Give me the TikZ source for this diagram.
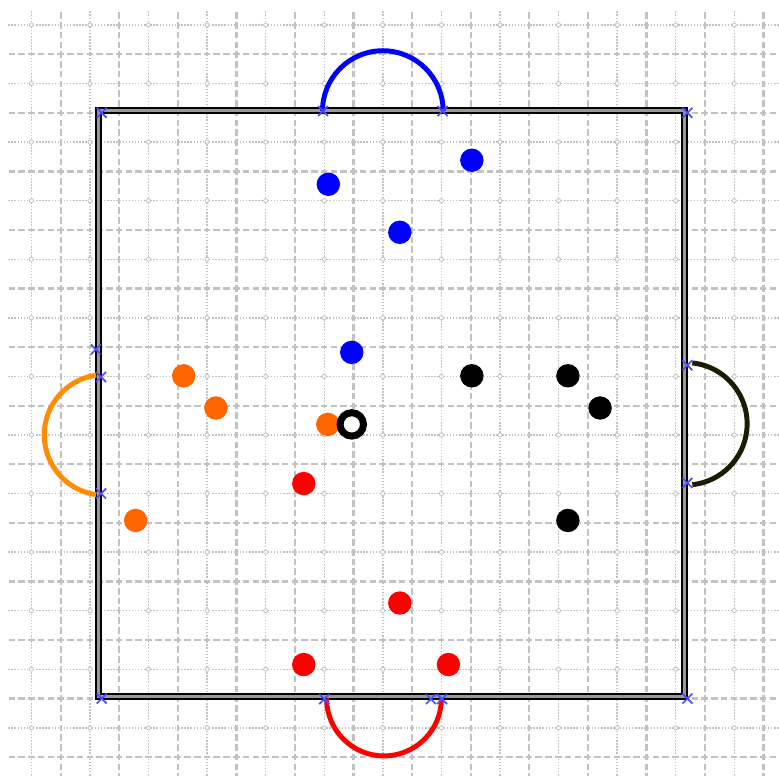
\documentclass[tikz,border=0pt]{standalone}
\usepackage{xcolor}
\definecolor{gridgray}{HTML}{C2C2C2}
\definecolor{exitblue}{HTML}{0000FF}
\definecolor{exitorange}{HTML}{FF8C00}
\definecolor{agentorange}{HTML}{FF6600}
\definecolor{exitred}{HTML}{FF0000}
\definecolor{exitdark}{HTML}{1C1C05}
\definecolor{markblue}{HTML}{4C4CFF}
\usepackage{tikz}

\tikzset{
  agent/.style={circle,inner sep=0pt,minimum size=0.4cm},
  door/.style={line width=2.4pt},
  exitmark/.style={markblue,line width=0.8pt},
  majorline/.style={gridgray,line width=1.1pt,dash pattern=on 3.2pt off 1.54pt,dash phase=1.6pt},
  minorline/.style={gridgray,line width=0.7pt,dash pattern=on 0.7pt off 0.8pt}
}

\begin{document}
\begin{tikzpicture}
  \useasboundingbox (-1.736,-1.306) rectangle (11.564,11.926);
  % Grid
  \begin{scope}
    \clip (-1.60,-1.40) rectangle (11.70,11.74);
    \foreach \j in {-2,...,11} {
      \draw[minorline] (-1.7,\j+0.5) -- (11.7,\j+0.5);
    }
    \foreach \i in {-1,...,11} {
      \draw[minorline] (\i-0.2,-2) -- (\i-0.2,12);
    }
    \foreach \j in {-1,...,11} {
      \draw[majorline] (-1.7,\j) -- (11.7,\j);
    }
    \foreach \i in {-1,...,12} {
      \draw[majorline] (\i-0.7,-2) -- (\i-0.7,12);
    }
    \foreach \i in {-1,...,11}
      \foreach \j in {-2,...,11}
        \draw[gridgray,line width=0.4pt,fill=white] (\i-0.2,\j+0.5) circle (0.035);
  \end{scope}
  % Walls
  \draw[black,line width=0.9pt,double=gray!80,double distance=1.6pt] (-0.05,0.04) rectangle (9.95,10.04);
  % Exits
  \draw[door,exitblue] (3.77,10.03) arc[start angle=180,end angle=0,radius=1.03];
  \draw[door,exitred] (3.84,0) arc[start angle=180,end angle=360,radius=0.98];
  \draw[door,exitorange] ([shift={(98:1.03)}]0.05,4.50) arc[start angle=98,end angle=262,radius=1.03];
  \draw[door,exitdark] ([shift={(84:1.045)}]9.975,4.69) arc[start angle=84,end angle=-84,radius=1.045];
  % Marks
  \foreach \x/\y in {0/0,10/0,0/10,10/10,3.78/10.03,5.82/10.03,3.80/-0.01,5.62/-0.01,5.81/-0.01,
                     -0.10/5.96,-0.01/5.49,-0.01/3.50,10/5.69,10/3.68} {
    \draw[exitmark] (\x-0.085,\y-0.085) -- (\x+0.085,\y+0.085) (\x-0.085,\y+0.085) -- (\x+0.085,\y-0.085);
  }
  % Agents
  \foreach \x/\y [count=\n] in {3.87/8.78,6.32/9.19,5.09/7.96,4.27/5.91}
    \node[agent,fill=exitblue] (blue\n) at (\x,\y) {};
  \foreach \x/\y [count=\n] in {1.40/5.51,1.95/4.96,3.86/4.68,0.58/3.04}
    \node[agent,fill=agentorange] (orange\n) at (\x,\y) {};
  \foreach \x/\y [count=\n] in {6.32/5.51,7.96/5.51,8.51/4.96,7.96/3.04}
    \node[agent,fill=black] (dark\n) at (\x,\y) {};
  \foreach \x/\y [count=\n] in {3.45/3.67,5.09/1.63,3.45/0.58,5.92/0.58}
    \node[agent,fill=exitred] (red\n) at (\x,\y) {};
  \node[agent,draw=black,fill=white,line width=3.4pt] (probe) at (4.27,4.68) {};
\end{tikzpicture}
\end{document}
